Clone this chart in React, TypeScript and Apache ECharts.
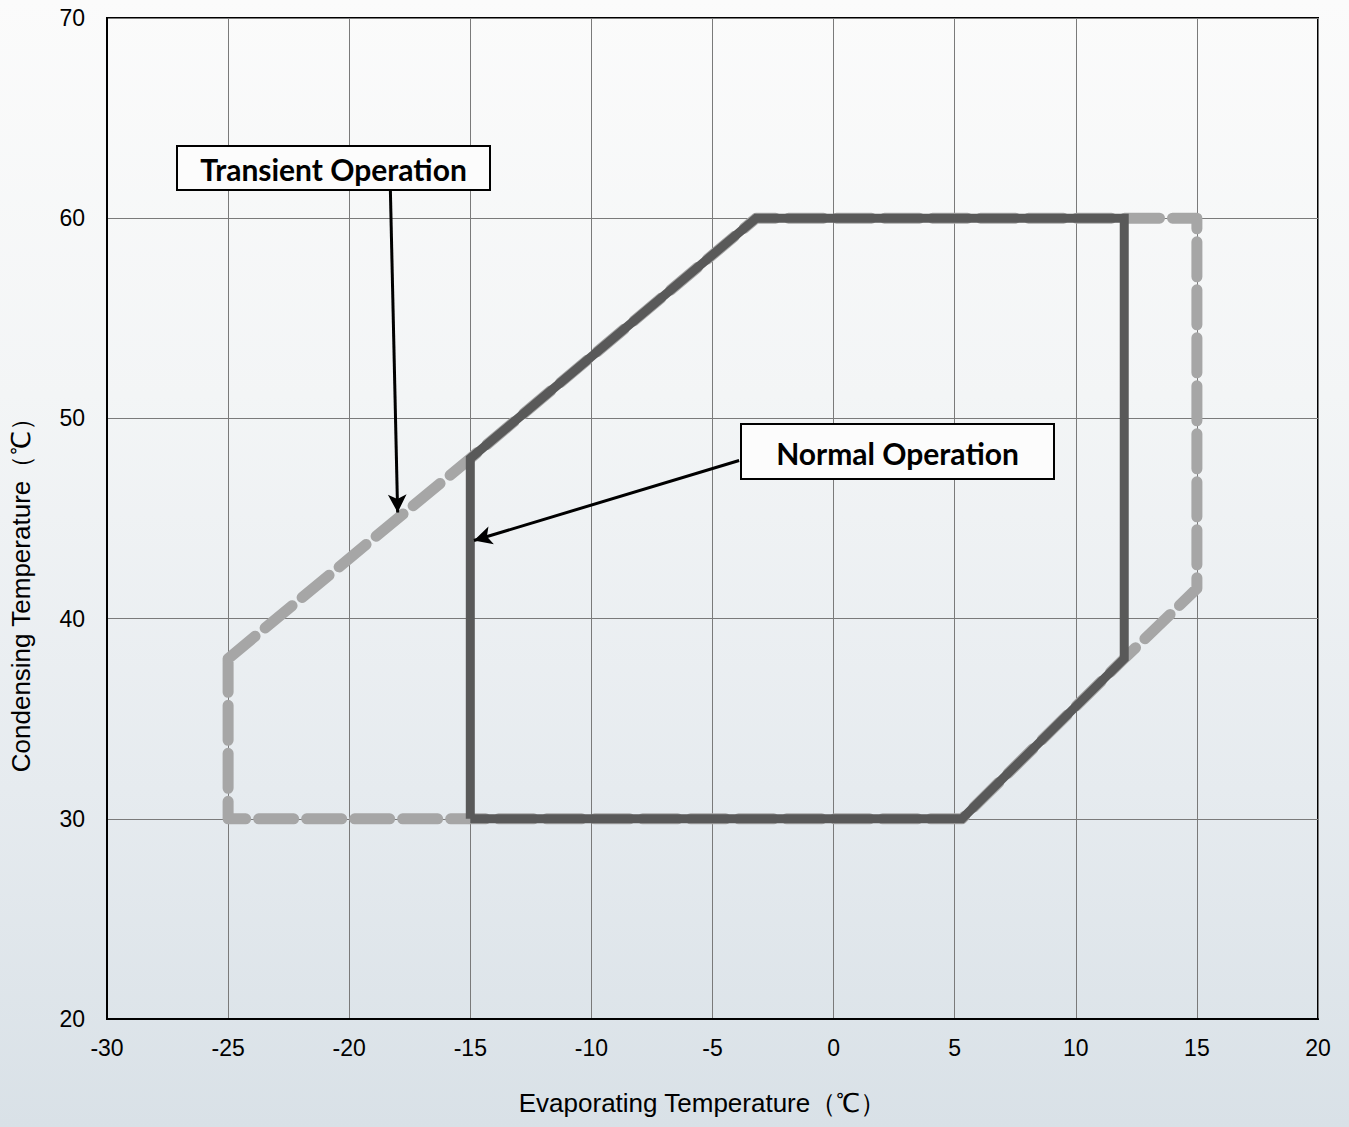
import React, { useEffect, useRef } from "react";
import * as echarts from "echarts";

const xTicks = { min: -30, max: 20, interval: 5 };
const yTicks = { min: 20, max: 70, interval: 10 };

const transientX = [-25, -15, -3.2, 15, 15, 12, 5.3, -25, -25];
const transientY = [38, 48, 60, 60, 41.5, 38, 30, 30, 38];

const normalX = [-15, -15, -3.2, 12, 12, 5.3, -15];
const normalY = [30, 48, 60, 60, 38, 30, 30];

const xTitle = "Evaporating Temperature（℃）";
const yTitle = "Condensing Temperature（℃）";

const labels = ["Transient Operation", "Normal Operation"];
// arrows: [startX, startY, endX, endY] in data units
const arrowTransient = [-18.3, 61.4, -18.0, 45.3];
const arrowNormal = [-3.9, 47.9, -14.85, 43.9];

const pairs = (xs: number[], ys: number[]) => xs.map((x, i) => [x, ys[i]]);

export default function App() {
  const ref = useRef<HTMLDivElement>(null);
  useEffect(() => {
    document.body.style.margin = "0";
    const chart = echarts.init(ref.current!, null, { renderer: "svg" });
    const font = "Liberation Sans, Arial, sans-serif";
    const boxText = (txt: string, x: number, y: number, w: number, h: number) => ({
      type: "group",
      children: [
        {
          type: "rect",
          shape: { x, y, width: w, height: h },
          style: { fill: "#fcfcfc", stroke: "#000", lineWidth: 2 },
          z: 100,
        },
        {
          type: "text",
          x: x + w / 2,
          y: y + h / 2 + 1,
          style: {
            text: txt,
            fill: "#000",
            font: "bold 30px Lato, 'Open Sans', sans-serif",
            textAlign: "center",
            textVerticalAlign: "middle",
          },
          z: 101,
        },
      ],
    });
    const mk = (a: number[]) => [{ coord: [a[0], a[1]] }, { coord: [a[2], a[3]] }];
    chart.setOption({
      animation: false,
      backgroundColor: "transparent",
      grid: {
        left: 107,
        top: 18,
        right: 31,
        bottom: 108,
        show: true,
        borderColor: "#000",
        borderWidth: 2,
        backgroundColor: "transparent",
        outerBoundsMode: "none",
        containLabel: false,
      },
      xAxis: {
        type: "value",
        min: xTicks.min,
        max: xTicks.max,
        interval: xTicks.interval,
        name: xTitle,
        nameLocation: "middle",
        nameGap: 71,
        nameTextStyle: { fontFamily: font, fontSize: 26, color: "#000", padding: [0, 20, 0, 0] },
        axisLine: { show: true, onZero: false, lineStyle: { color: "#000", width: 2 } },
        axisTick: { show: false },
        axisLabel: { fontFamily: font, fontSize: 23, color: "#000", margin: 17 },
        splitLine: { show: true, lineStyle: { color: "#7a7a7a", width: 1 } },
      },
      yAxis: {
        type: "value",
        min: yTicks.min,
        max: yTicks.max,
        interval: yTicks.interval,
        name: yTitle,
        nameLocation: "middle",
        nameGap: 73,
        nameTextStyle: { fontFamily: font, fontSize: 26, color: "#000", padding: [0, 140, 0, 0] },
        axisLine: { show: true, onZero: false, lineStyle: { color: "#000", width: 2 } },
        axisTick: { show: false },
        axisLabel: { fontFamily: font, fontSize: 23, color: "#000", margin: 22 },
        splitLine: { show: true, lineStyle: { color: "#7a7a7a", width: 1 } },
      },
      series: [
        {
          type: "line",
          name: "Transient",
          data: pairs(transientX, transientY),
          showSymbol: false,
          symbol: "none",
          lineStyle: { color: "#a6a6a6", width: 11, type: [35, 13], cap: "round", join: "round" },
          z: 3,
          silent: true,
        },
        {
          type: "line",
          name: "Normal",
          data: pairs(normalX, normalY),
          showSymbol: false,
          symbol: "none",
          lineStyle: { color: "#595959", width: 9, cap: "butt", join: "miter" },
          z: 4,
          silent: true,
          markLine: {
            silent: true,
            symbol: ["none", "arrow"],
            symbolSize: [14, 18],
            label: { show: false },
            lineStyle: { color: "#000", width: 3, type: "solid" },
            data: [mk(arrowTransient), mk(arrowNormal)],
            z: 10,
          },
        },
      ],
      graphic: [boxText(labels[0], 177, 146, 313, 44), boxText(labels[1], 741, 424, 313, 55)],
    });
    return () => chart.dispose();
  }, []);
  return (
    <div
      ref={ref}
      style={{
        position: "absolute",
        left: 0,
        top: 0,
        width: 1349,
        height: 1127,
        background: "linear-gradient(180deg, #fbfbfb 0%, #f3f5f6 35%, #e6ebef 70%, #d9e1e7 100%)",
      }}
    />
  );
}
